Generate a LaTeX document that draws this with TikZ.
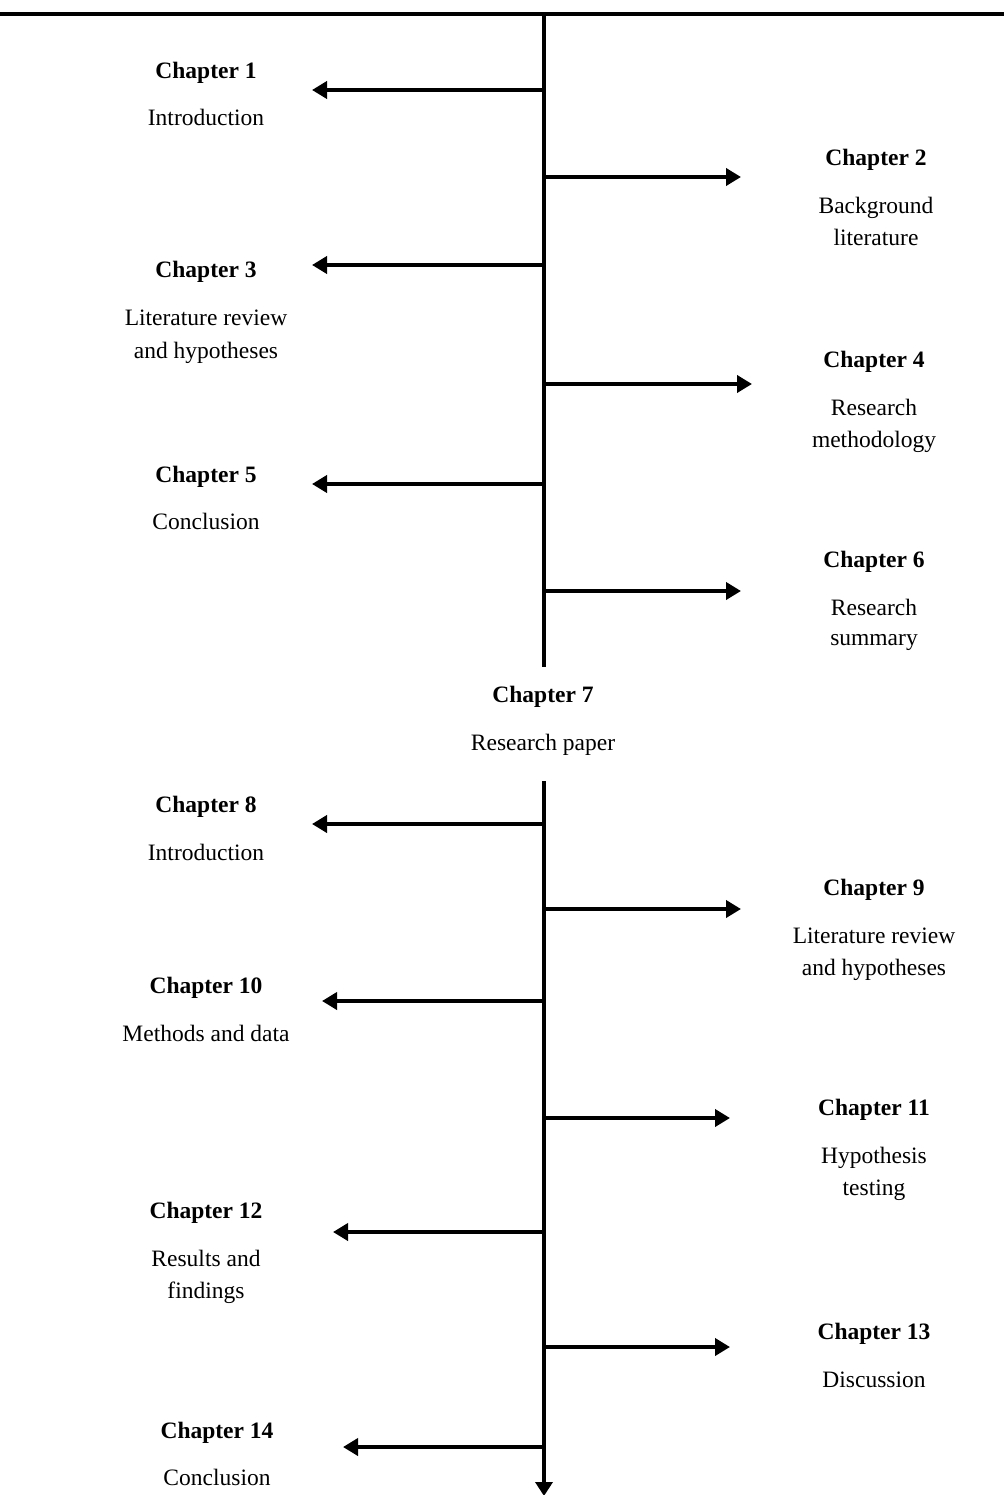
\documentclass[tikz,border=0pt]{standalone}
\usepackage{fontspec}
\setmainfont{Liberation Serif}
\usetikzlibrary{arrows.meta}
\begin{document}
\begin{tikzpicture}[x=1pt,y=-1pt,
  axis/.style={line width=4.6pt},
  branch/.style={line width=4.6pt,-{Triangle[length=15pt,width=17pt]}},
  ttl/.style={anchor=base,inner sep=0pt,font=\fontsize{23.5}{28}\selectfont\bfseries},
  txt/.style={anchor=base,inner sep=0pt,font=\fontsize{23.5}{28}\selectfont}]
\useasboundingbox (0,0) rectangle (1004,1495);
% top rule and spine
\coordinate (tl) at (0,14);
\coordinate (tr) at (1004,14);
\coordinate (s0) at (544,14);
\coordinate (s1) at (544,667);
\coordinate (s2) at (544,781);
\coordinate (s3) at (544,1496);
\draw[axis] (tl) -- (tr);
\draw[axis] (s0) -- (s1);
\draw[axis,-{Triangle[length=14pt,width=17pt]}] (s2) -- (s3);
% branch points on the spine and arrow ends
\foreach \n/\y/\x in {1/90/312, 2/177/741, 3/265/312, 4/384/752, 5/484/312, 6/591/741,
                      8/824/312, 9/909/741, 10/1001/322, 11/1118/730, 12/1232/333,
                      13/1347/730, 14/1447/343}{
  \coordinate (b\n) at (542,\y);
  \coordinate (e\n) at (\x,\y);
  \draw[branch] (b\n) -- (e\n);
}
% left side labels
\node[ttl] (c1) at (206,79) {Chapter 1};
\node[txt] (c1a) at (206,126) {Introduction};
\node[ttl] (c3) at (206,278) {Chapter 3};
\node[txt] (c3a) at (206,326) {Literature review};
\node[txt] (c3b) at (206,358) {and hypotheses};
\node[ttl] (c5) at (206,482) {Chapter 5};
\node[txt] (c5a) at (206,529) {Conclusion};
\node[ttl] (c8) at (206,812) {Chapter 8};
\node[txt] (c8a) at (206,860) {Introduction};
\node[ttl] (c10) at (206,993) {Chapter 10};
\node[txt] (c10a) at (206,1041) {Methods and data};
\node[ttl] (c12) at (206,1218) {Chapter 12};
\node[txt] (c12a) at (206,1266) {Results and};
\node[txt] (c12b) at (206,1298) {findings};
\node[ttl] (c14) at (217,1438) {Chapter 14};
\node[txt] (c14a) at (217,1485) {Conclusion};
% right side labels
\node[ttl] (c2) at (876,166) {Chapter 2};
\node[txt] (c2a) at (876,214) {Background};
\node[txt] (c2b) at (876,246) {literature};
\node[ttl] (c4) at (874,367) {Chapter 4};
\node[txt] (c4a) at (874,415) {Research};
\node[txt] (c4b) at (874,447) {methodology};
\node[ttl] (c6) at (874,567) {Chapter 6};
\node[txt] (c6a) at (874,615) {Research};
\node[txt] (c6b) at (874,645) {summary};
\node[ttl] (c9) at (874,895) {Chapter 9};
\node[txt] (c9a) at (874,943) {Literature review};
\node[txt] (c9b) at (874,975) {and hypotheses};
\node[ttl] (c11) at (874,1115) {Chapter 11};
\node[txt] (c11a) at (874,1163) {Hypothesis};
\node[txt] (c11b) at (874,1195) {testing};
\node[ttl] (c13) at (874,1339) {Chapter 13};
\node[txt] (c13a) at (874,1387) {Discussion};
% centre label in the gap of the spine
\node[ttl] (c7) at (543,702) {Chapter 7};
\node[txt] (c7a) at (543,750) {Research paper};
\end{tikzpicture}
\end{document}
